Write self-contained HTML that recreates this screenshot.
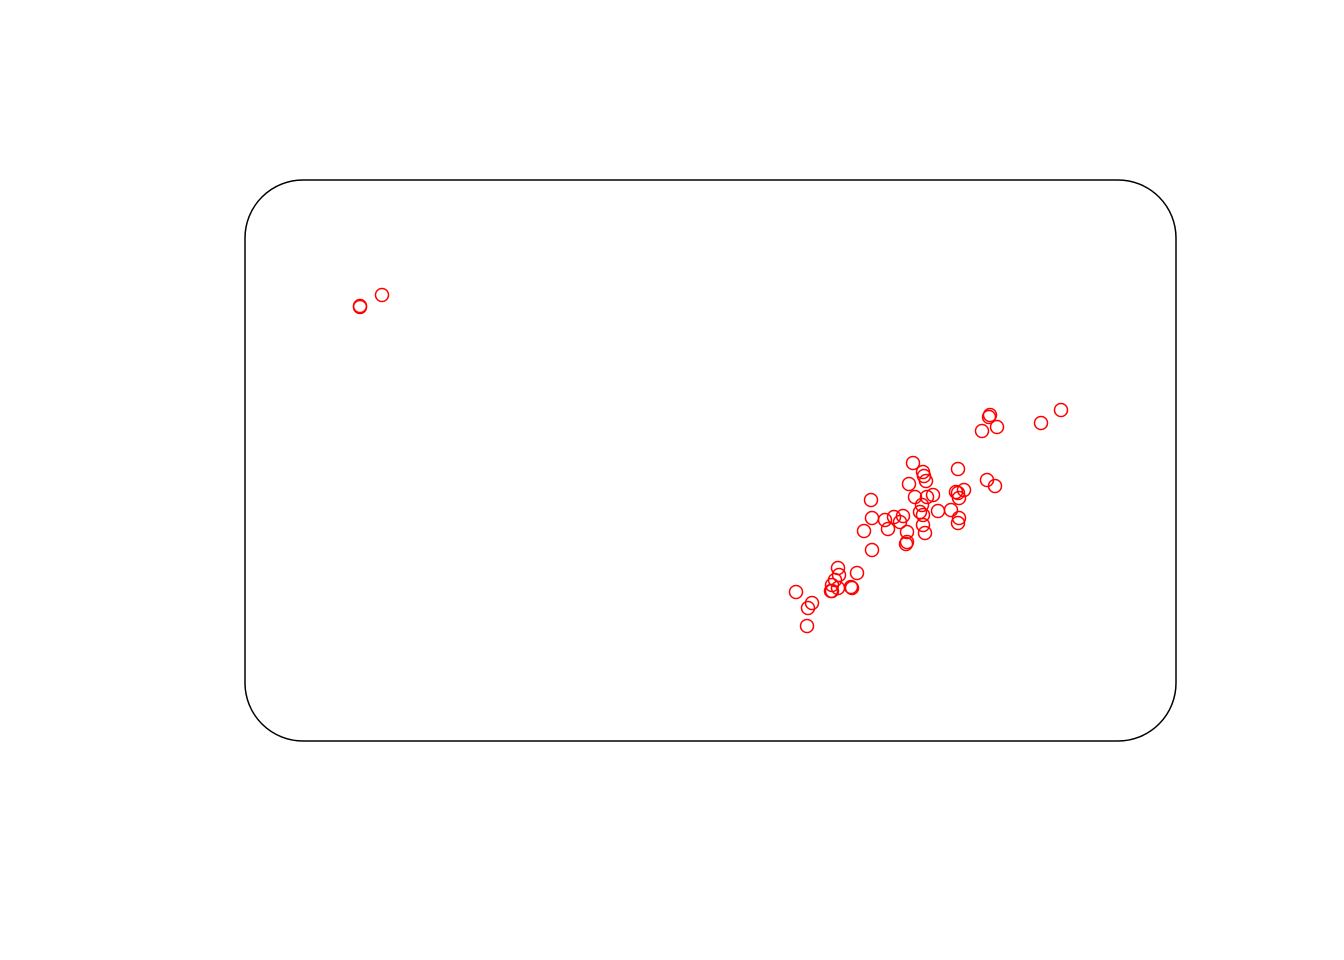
<!DOCTYPE html>
<html><head><meta charset="utf-8"><style>html,body{margin:0;padding:0;background:#fff}svg{display:block}</style></head>
<body>
<svg id="chart" width="1344" height="960" viewBox="0 0 1344 960" xmlns="http://www.w3.org/2000/svg">
<rect x="245" y="180" width="931" height="561" rx="58" ry="58" fill="none" stroke="#000" stroke-width="1.5"/>
<g id="points"></g>
</svg>
<script>
const xValues = [360,360,382,990,989,982,997,1041,1061,913,923,924,926,958,909,987,995,933,927,915,956,964,959,958,871,922,920,923,938,951,872,885,894,903,900,888,864,923,925,907,959,958,907,906,872,857,838,839,835,832,838,852,832,851,831,796,812,808,807];
const yValues = [307,306,295,415,417,431,427,423,410,463,472,476,481,469,484,480,486,495,497,497,492,490,498,493,500,505,512,515,511,510,518,520,517,516,522,529,531,525,533,532,518,523,542,544,550,573,568,575,580,585,588,588,591,587,591,592,603,608,626];
const xDomain = [245,1176], xRange = [245,1176];
const yDomain = [180,741], yRange = [180,741];
function xScale(v){return xRange[0]+(v-xDomain[0])/(xDomain[1]-xDomain[0])*(xRange[1]-xRange[0]);}
function yScale(v){return yRange[0]+(v-yDomain[0])/(yDomain[1]-yDomain[0])*(yRange[1]-yRange[0]);}
const g = document.getElementById('points');
for(let i=0;i<xValues.length;i++){
  const c=document.createElementNS('http://www.w3.org/2000/svg','circle');
  c.setAttribute('cx',xScale(xValues[i]));
  c.setAttribute('cy',yScale(yValues[i]));
  c.setAttribute('r',6.5);
  c.setAttribute('fill','none');
  c.setAttribute('stroke','#ff0000');
  c.setAttribute('stroke-width','1.5');
  
  
  g.appendChild(c);
}
</script>
</body></html>
